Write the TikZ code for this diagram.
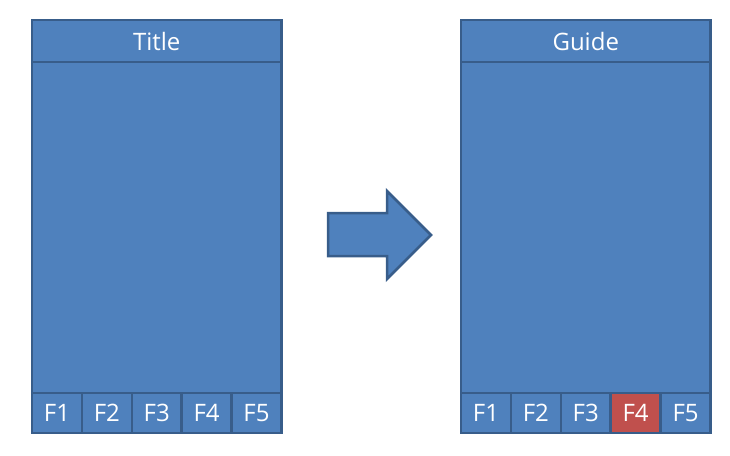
\documentclass[tikz,border=0pt]{standalone}
\usepackage{fontspec}
\setmainfont{Open Sans}
\usetikzlibrary{calc}

\definecolor{paneblue}{HTML}{4F81BD}
\definecolor{paneedge}{HTML}{385D8A}
\definecolor{keyred}{HTML}{C0504D}

\begin{document}
\begin{tikzpicture}[
  x=1pt,
  y=-1pt,
  line/.style={draw=paneedge,line width=2.5pt},
  pane/.style={line,fill=paneblue,text=white,inner sep=0pt,outer sep=0pt,
               font=\fontsize{24}{28}\selectfont},
  titlebar/.style={pane,minimum width=249.5pt,minimum height=42pt},
  screen/.style={pane,minimum width=249.5pt,minimum height=331pt},
  fkey/.style={pane,minimum width=49.9pt,minimum height=40pt}
]
\useasboundingbox (0,0) rectangle (730,455);

% =====================================================================
% Two phone screens: title bar, empty body, F1..F5 key strip
% =====================================================================
\foreach \px/\head/\tag/\hot in {32/Title/L/paneblue, 461/Guide/R/keyred}{
  \node[titlebar,anchor=north west] (title\tag) at (\px,20) {\head};
  \node[screen,anchor=north] (body\tag) at (title\tag.south) {};
  \foreach \k in {1,...,5}{
    \ifnum\k=4 \def\kfill{\hot}\else\def\kfill{paneblue}\fi
    \node[fkey,fill=\kfill,anchor=north west] (f\k\tag)
      at ($(body\tag.south west)+(\k*49.9-49.9,0)$) {F\k};
  }
}

% =====================================================================
% Block arrow between the screens
% =====================================================================
\draw[line,fill=paneblue,line join=miter]
  (328,213) -- (387,213) -- (387,191) -- (431,235)
  -- (387,279) -- (387,256) -- (328,256) -- cycle;

\end{tikzpicture}
\end{document}
